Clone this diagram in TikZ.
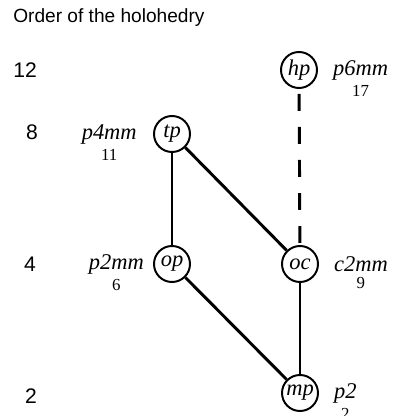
\documentclass[tikz,border=0pt]{standalone}
\usepackage{fontspec}
\setmainfont{Liberation Serif}
\newfontfamily\arialfont{Liberation Sans}
\usetikzlibrary{positioning}

\begin{document}
\begin{tikzpicture}[
    lat/.style={draw, circle, line width=1.4pt, fill=white, minimum size=0.9cm, inner sep=0pt, font=\fontsize{16}{18}\selectfont\itshape},
    grp/.style={inner sep=0pt, font=\fontsize{16}{18}\selectfont\itshape},
    num/.style={inner sep=0pt, font=\fontsize{12}{14}\selectfont},
    ord/.style={inner sep=0pt, font=\arialfont\fontsize{15}{17}\selectfont},
    sub/.style={line width=2.1pt},
    nsub/.style={line width=2.1pt, dash pattern=on 12pt off 11.5pt, dash phase=20pt},
]
  \useasboundingbox (0,0) rectangle (9.85,10.4);

  % order of the holohedry
  \node[ord, anchor=west] (title) at (0.325,9.95) {\fontsize{13.6}{16}\selectfont Order of the holohedry};
  \node[ord, anchor=west] (o12) at (0.325,8.65) {12};
  \node[ord] (o8) at (0.8,7.1) {8};
  \node[ord] (o4) at (0.75,3.8) {4};
  \node[ord] (o2) at (0.775,0.5) {2};

  % lattice types
  \node[lat] (hp) at (7.475,8.65) {hp};
  \node[lat] (tp) at (4.3,7.05)   {tp};
  \node[lat] (op) at (4.3,3.8)    {op};
  \node[lat] (oc) at (7.5,3.8)    {oc};
  \node[lat] (mp) at (7.5,0.575)  {mp};

  % holohedries
  \node[grp, right=0.37cm of hp] (p6mm) {p6mm};
  \node[num, below=0.12cm of p6mm] (n17) {17};
  \node[grp, left=0.4cm of tp] (p4mm) {p4mm};
  \node[num, below=0.12cm of p4mm] (n11) {11};
  \node[grp, left=0.22cm of op] (p2mm) {p2mm};
  \node[num, below=0.12cm of p2mm] (n6) {6};
  \node[grp, right=0.37cm of oc] (c2mm) {c2mm};
  \node[num, below=0.12cm of c2mm] (n9) {9};
  \node[grp, right=0.37cm of mp] (p2) {p2};
  \node[num, below=0.12cm of p2] (n2) {2};

  \draw[sub] (tp) -- (op);
  \draw[sub] (tp) -- (oc);
  \draw[sub] (op) -- (mp);
  \draw[sub] (oc) -- (mp);
  \draw[nsub] (hp) -- (oc);
\end{tikzpicture}
\end{document}
